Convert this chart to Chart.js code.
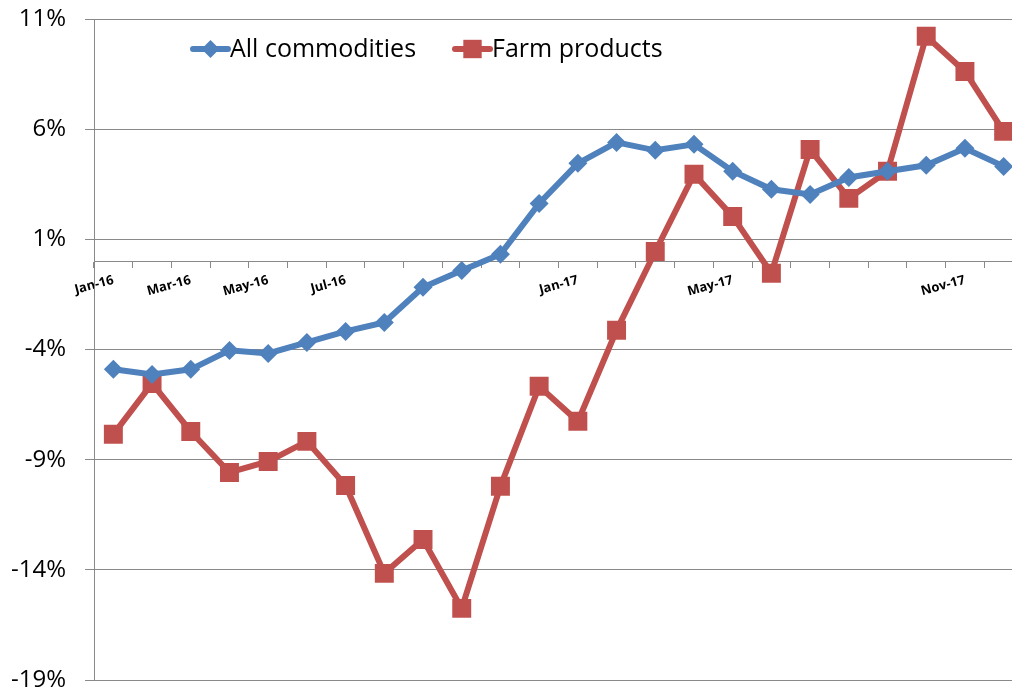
<!DOCTYPE html>
<html><head><meta charset="utf-8">
<script src="https://cdn.jsdelivr.net/npm/chart.js@4/dist/chart.umd.min.js"></script>
<style>
html,body{margin:0;padding:0;background:#fff;overflow:hidden;}
#wrap{position:relative;width:1040px;height:694px;}
</style></head><body>
<div id="wrap"><canvas id="c" width="1040" height="694"></canvas></div>
<script>
const categories = ["Jan-16","Feb-16","Mar-16","Apr-16","May-16","Jun-16","Jul-16","Aug-16","Sep-16","Oct-16","Nov-16","Dec-16",
  "Jan-17","Feb-17","Mar-17","Apr-17","May-17","Jun-17","Jul-17","Aug-17","Sep-17","Oct-17","Nov-17","Dec-17"];
const shownLabels = ["Jan-16","Mar-16","May-16","Jul-16","Jan-17","May-17","Nov-17"];
const allCommodities = [-4.9,-5.13,-4.9,-4.04,-4.18,-3.68,-3.18,-2.77,-1.18,-0.41,0.32,2.63,
  4.45,5.4,5.04,5.31,4.09,3.27,3.04,3.81,4.09,4.36,5.13,4.31];
const farmProducts = [-7.85,-5.54,-7.72,-9.58,-9.08,-8.17,-10.17,-14.16,-12.62,-15.75,-10.21,-5.67,
  -7.26,-3.13,0.45,3.95,2.04,-0.54,5.08,2.86,4.09,10.22,8.62,5.9];
const yTicks = {min:-19, max:11, step:5};
const seriesNames = ["All commodities","Farm products"];

const BLUE = "#4F81BD", RED = "#C0504D", GRID = "#898989";
const FONT = "Open Sans";

const legendPlugin = {
  id:'customLegend',
  afterDraw(chart){
    const ctx = chart.ctx;
    const items = [
      {name:seriesNames[0], color:BLUE, style:'rectRot', r:9, x:193},
      {name:seriesNames[1], color:RED, style:'rect', r:13, x:455}
    ];
    const y = 49;
    ctx.save();
    items.forEach(it=>{
      ctx.strokeStyle = it.color; ctx.lineWidth = 6; ctx.lineCap='round';
      ctx.beginPath(); ctx.moveTo(it.x, y); ctx.lineTo(it.x+35, y); ctx.stroke();
      ctx.fillStyle = it.color;
      ctx.beginPath();
      const cx = it.x+17.5;
      if (it.style==='rectRot'){
        ctx.moveTo(cx, y-it.r); ctx.lineTo(cx+it.r, y); ctx.lineTo(cx, y+it.r); ctx.lineTo(cx-it.r, y);
      } else {
        const s = it.r*Math.SQRT1_2; ctx.rect(cx-s, y-s, 2*s, 2*s);
      }
      ctx.closePath(); ctx.fill();
      ctx.fillStyle = '#000'; ctx.font = `25px "${FONT}"`; ctx.textBaseline='middle'; ctx.textAlign='left';
      ctx.fillText(it.name, it.x+37, y+1);
    });
    ctx.restore();
  }
};

new Chart(document.getElementById('c'), {
  type:'line',
  data:{
    labels:categories,
    datasets:[
      {label:seriesNames[0], data:allCommodities, borderColor:BLUE, backgroundColor:BLUE, borderWidth:6,
       pointStyle:'rectRot', pointRadius:9.5, pointBorderWidth:0, pointBackgroundColor:BLUE, tension:0},
      {label:seriesNames[1], data:farmProducts, borderColor:RED, backgroundColor:RED, borderWidth:6,
       pointStyle:'rect', pointRadius:13.4, pointBorderWidth:0, pointBackgroundColor:RED, tension:0}
    ]
  },
  options:{
    responsive:false, animation:false, devicePixelRatio:1,
    layout:{padding:{left:0,right:17,top:19,bottom:14}},
    plugins:{legend:{display:false}, tooltip:{enabled:false}},
    scales:{
      x:{
        type:'category', offset:true, position:{y:0},
        afterFit(s){ s.paddingLeft = 0; s.paddingRight = 0; s.paddingTop = 0; s.paddingBottom = 0; },
        grid:{display:true, offset:true, drawOnChartArea:false, drawTicks:true, tickLength:6, color:GRID},
        border:{display:true, color:GRID, width:1},
        ticks:{autoSkip:false, minRotation:15, maxRotation:15, padding:5,
          color:'#000', font:{family:FONT, size:13, weight:'bold'},
          callback(v,i){ const l = categories[i]; return shownLabels.includes(l) ? l : ''; }}
      },
      y:{
        min:yTicks.min, max:yTicks.max,
        afterFit(s){ s.width = 94; s.paddingTop = 0; s.paddingBottom = 0; },
        grid:{color:GRID, lineWidth:1, tickLength:9, drawTicks:true},
        border:{display:true, color:GRID, width:1},
        ticks:{stepSize:yTicks.step, padding:19, color:'#000', font:{family:FONT, size:24},
          callback(v){ return v + '%'; }}
      }
    }
  },
  plugins:[legendPlugin]
});
</script>
</body></html>
